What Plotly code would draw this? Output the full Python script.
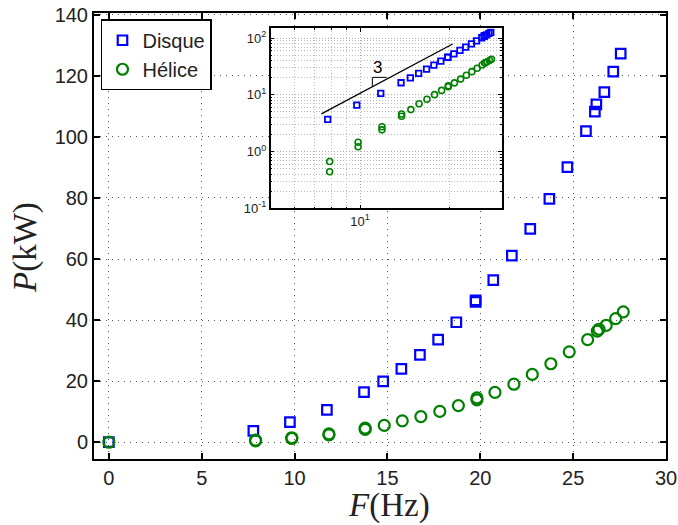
import plotly.graph_objects as go
import numpy as np

# Disque (squares)
disque_F = [0, 7.78, 9.75, 11.74, 13.74, 14.77, 15.75, 16.75, 17.73, 18.71, 19.75, 19.75,
            20.70, 21.70, 22.69, 23.72, 24.69, 25.69, 26.17, 26.25, 26.68, 27.16, 27.56]
disque_P = [0, 3.7, 6.6, 10.6, 16.4, 19.9, 24.0, 28.6, 33.6, 39.3, 46.0, 46.5,
            53.1, 61.1, 69.9, 79.7, 90.1, 101.9, 108.3, 110.7, 114.7, 121.4, 127.3]

# Hélice (circles)
helice_F = [0, 7.9, 7.9, 9.85, 9.85, 11.85, 11.85, 13.8, 13.8, 14.83, 15.8, 16.8, 17.82,
            18.82, 19.82, 19.82, 20.79, 21.81, 22.8, 23.8, 24.79, 25.78, 26.3, 26.39,
            26.78, 27.29, 27.7]
helice_P = [0, 0.67, 0.44, 1.46, 1.22, 2.75, 2.42, 4.6, 4.2, 5.5, 7.0, 8.4, 10.1,
            12.0, 13.9, 14.5, 16.3, 19.0, 22.2, 25.7, 29.6, 33.6, 36.4, 37.0,
            38.3, 40.5, 42.7]

# slope-3 guide line and triangle (inset, log-log)
slope_F = [7.41, 20.5]
slope_P = [4.63, 79.1]
tri_F = [11.0, 11.0, 12.3]
tri_P = [14.0, 20.4, 20.4]
slope_label = "3"

x_ticks = [0, 5, 10, 15, 20, 25, 30]
y_ticks = [0, 20, 40, 60, 80, 100, 120, 140]
inset_y_ticks = [0.1, 1, 10, 100]
inset_y_text = ["10<sup>-1</sup>", "10<sup>0</sup>", "10<sup>1</sup>", "10<sup>2</sup>"]
inset_x_ticks = [10]
inset_x_text = ["10<sup>1</sup>"]

BLUE = "rgb(0,0,255)"
GREEN = "rgb(0,128,0)"
SANS = "Liberation Sans, Arial, sans-serif"
SERIF = "Liberation Serif, Times New Roman, serif"

fig = go.Figure()

fig.add_trace(go.Scatter(x=disque_F, y=disque_P, mode="markers", name="Disque",
                         marker=dict(symbol="square-open", size=9.5, color=BLUE,
                                     line=dict(width=2.2, color=BLUE)),
                         xaxis="x", yaxis="y"))
fig.add_trace(go.Scatter(x=helice_F, y=helice_P, mode="markers", name="Hélice",
                         marker=dict(symbol="circle-open", size=11, color=GREEN,
                                     line=dict(width=2.2, color=GREEN)),
                         xaxis="x", yaxis="y"))

# inset traces (skip F=0 on log axes)
dF = [f for f in disque_F if f > 0]
dP = [p for f, p in zip(disque_F, disque_P) if f > 0]
hF = [f for f in helice_F if f > 0]
hP = [p for f, p in zip(helice_F, helice_P) if f > 0]
fig.add_trace(go.Scatter(x=dF, y=dP, mode="markers", showlegend=False,
                         marker=dict(symbol="square-open", size=5.5, color=BLUE,
                                     line=dict(width=1.8, color=BLUE)),
                         xaxis="x2", yaxis="y2"))
fig.add_trace(go.Scatter(x=hF, y=hP, mode="markers", showlegend=False,
                         marker=dict(symbol="circle-open", size=6, color=GREEN,
                                     line=dict(width=1.6, color=GREEN)),
                         xaxis="x2", yaxis="y2"))
fig.add_trace(go.Scatter(x=slope_F, y=slope_P, mode="lines", showlegend=False,
                         line=dict(color="black", width=1.3), xaxis="x2", yaxis="y2"))
fig.add_trace(go.Scatter(x=tri_F, y=tri_P, mode="lines", showlegend=False,
                         line=dict(color="black", width=1), xaxis="x2", yaxis="y2"))

fig.add_annotation(x=np.log10(11.45), y=np.log10(30.6), xref="x2", yref="y2",
                   text=slope_label, showarrow=False,
                   font=dict(family=SANS, size=17, color="black"))

# axis titles as annotations (paper coords)
fig.add_annotation(x=0.515, y=-0.105, xref="paper", yref="paper", xanchor="center",
                   yanchor="middle", text="<i>F</i>(Hz)", showarrow=False,
                   font=dict(family=SERIF, size=33, color="#222"))
fig.add_annotation(x=-0.121, y=0.475, xref="paper", yref="paper", xanchor="center",
                   yanchor="middle", text="<i>P</i>(kW)", showarrow=False, textangle=-90,
                   font=dict(family=SERIF, size=33, color="#222"))

grid = dict(showgrid=True, gridcolor="#555", griddash="1px,5px", gridwidth=1)
tickfont = dict(family=SANS, size=20, color="#222")
inset_grid = dict(showgrid=True, gridcolor="#aaa", griddash="1px,2px", gridwidth=1)

fig.update_layout(
    template="none",
    width=678, height=525,
    margin=dict(l=94, r=12, t=13, b=66, autoexpand=False),
    paper_bgcolor="white", plot_bgcolor="white",
    showlegend=True,
    legend=dict(x=0.0122, y=0.986, xanchor="left", yanchor="top",
                bordercolor="black", borderwidth=1.5, bgcolor="white",
                font=dict(family=SANS, size=20, color="#222"),
                tracegroupgap=0),
    xaxis=dict(domain=[0, 1], range=[-0.8, 30], tickvals=x_ticks, automargin=False,
               showline=True, linecolor="black", linewidth=2, mirror="ticks",
               ticks="inside", ticklen=6, tickwidth=1.5, tickcolor="black",
               zeroline=False, tickfont=tickfont, **grid),
    yaxis=dict(domain=[0, 1], range=[-5.5, 140.6], tickvals=y_ticks, automargin=False,
               showline=True, linecolor="black", linewidth=2, mirror="ticks",
               ticks="inside", ticklen=6, tickwidth=1.5, tickcolor="black",
               zeroline=False, tickfont=tickfont, **grid),
    xaxis2=dict(domain=[0.3089, 0.7128], anchor="y2", type="log", automargin=False,
                range=[np.log10(5), np.log10(30)],
                tickvals=inset_x_ticks, ticktext=inset_x_text,
                showline=True, linecolor="black", linewidth=1.5, mirror="ticks",
                ticks="inside", ticklen=4, tickcolor="black",
                tickfont=dict(family=SANS, size=13, color="#222"),
                minor=dict(tickvals=[6, 7, 8, 9, 20, 30], ticks="inside", ticklen=2,
                           tickcolor="black", showgrid=True, gridcolor="#bbb",
                           griddash="1px,2px", gridwidth=1),
                zeroline=False, **inset_grid),
    yaxis2=dict(domain=[0.5622, 0.9658], anchor="x2", type="log", automargin=False,
                range=[-1, np.log10(150)],
                tickvals=inset_y_ticks, ticktext=inset_y_text,
                showline=True, linecolor="black", linewidth=1.5, mirror="ticks",
                ticks="inside", ticklen=4, tickcolor="black",
                tickfont=dict(family=SANS, size=13, color="#222"),
                minor=dict(tickvals=[0.2, 0.3, 0.4, 0.5, 0.6, 0.7, 0.8, 0.9,
                                     2, 3, 4, 5, 6, 7, 8, 9,
                                     20, 30, 40, 50, 60, 70, 80, 90],
                           ticks="inside", ticklen=2, tickcolor="black",
                           showgrid=True, gridcolor="#bbb", griddash="1px,2px", gridwidth=1),
                zeroline=False, **inset_grid),
)

fig.write_html("out.html", config={"displayModeBar": False},
               post_script="document.body.style.margin='0px';")
